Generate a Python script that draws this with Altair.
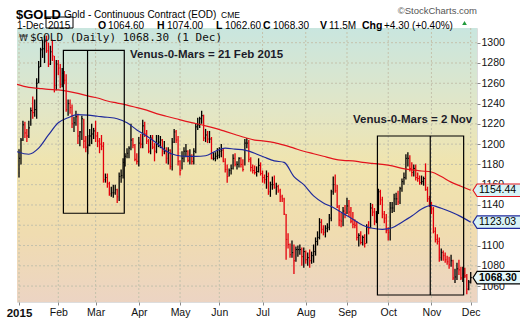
import altair as alt
import pandas as pd

# ---------------- data ----------------
month_idx = [0, 20, 39, 61, 82, 102, 124, 146, 167, 188, 210, 230]
month_lbl = ["2015", "Feb", "Mar", "Apr", "May", "Jun", "Jul", "Aug", "Sep", "Oct", "Nov", "Dec"]
y_ticks = [1060, 1080, 1100, 1120, 1140, 1160, 1180, 1200, 1220, 1240, 1260, 1280, 1300]

close = [
    1186, 1204, 1219, 1211, 1208, 1216, 1233, 1231, 1234, 1260, 1276, 1293, 1294, 1301, 1292, 1279, 1291, 1287, 1258, 1279,
    1275, 1259, 1270, 1263, 1234, 1240, 1236, 1220, 1221, 1227, 1208, 1212, 1225, 1203, 1197, 1199, 1208, 1210, 1213,
    1208, 1203, 1200, 1198, 1165, 1167, 1161, 1151, 1152, 1152, 1155, 1148, 1168, 1169, 1182, 1188, 1191, 1196, 1204, 1199, 1185, 1183,
    1201, 1200, 1218, 1210, 1203, 1193, 1206, 1197, 1193, 1200, 1202, 1204, 1193, 1193, 1186, 1194, 1178, 1202, 1212, 1204, 1183,
    1174, 1186, 1193, 1193, 1184, 1188, 1183, 1193, 1217, 1219, 1225, 1228, 1206, 1209, 1205, 1205, 1186, 1186, 1188, 1189,
    1193, 1194, 1183, 1175, 1168, 1174, 1176, 1186, 1180, 1180, 1186, 1180, 1175, 1201, 1201, 1185, 1177, 1174, 1172, 1173, 1179, 1171,
    1167, 1165, 1168, 1153, 1160, 1160, 1157, 1158, 1154, 1148, 1146, 1131, 1106, 1101, 1091, 1093, 1085, 1096, 1096, 1096, 1089, 1094,
    1086, 1088, 1085, 1090, 1094, 1104, 1108, 1123, 1116, 1113, 1117, 1118, 1127, 1153, 1160, 1154, 1138, 1125, 1124, 1134, 1132,
    1139, 1133, 1124, 1121, 1120, 1108, 1110, 1103, 1108, 1102, 1118, 1117, 1137, 1133, 1124, 1131, 1153, 1145, 1131, 1127, 1115,
    1113, 1137, 1137, 1146, 1146, 1143, 1156, 1163, 1167, 1186, 1186, 1176, 1172, 1176, 1167, 1166, 1162, 1163, 1166, 1155, 1146, 1142,
    1136, 1114, 1106, 1104, 1088, 1093, 1090, 1086, 1084, 1081, 1085, 1068, 1069, 1077, 1076, 1068, 1072, 1070, 1057, 1064,
    1068.3,
]
high = [
    1195, 1206, 1223, 1222, 1215, 1223, 1236, 1247, 1244, 1265, 1282, 1295, 1303, 1307, 1307, 1300, 1297, 1303, 1287, 1283,
    1283, 1279, 1275, 1272, 1269, 1244, 1244, 1239, 1227, 1233, 1230, 1213, 1228, 1225, 1208, 1209, 1215, 1220, 1216,
    1223, 1212, 1206, 1209, 1202, 1171, 1171, 1163, 1158, 1160, 1160, 1156, 1172, 1175, 1186, 1191, 1196, 1198, 1220, 1206, 1200, 1191,
    1207, 1210, 1224, 1222, 1214, 1205, 1209, 1209, 1201, 1209, 1209, 1208, 1205, 1203, 1197, 1197, 1195, 1206, 1215, 1214, 1208,
    1184, 1193, 1197, 1200, 1194, 1195, 1190, 1196, 1220, 1226, 1227, 1233, 1229, 1215, 1213, 1213, 1207, 1192, 1192, 1196,
    1197, 1200, 1196, 1186, 1180, 1176, 1180, 1190, 1191, 1183, 1187, 1187, 1185, 1205, 1206, 1204, 1187, 1180, 1179, 1178, 1186, 1182,
    1174, 1170, 1174, 1172, 1163, 1168, 1169, 1162, 1160, 1156, 1150, 1147, 1131, 1112, 1102, 1105, 1101, 1099, 1100, 1101, 1098, 1098,
    1095, 1093, 1096, 1094, 1101, 1108, 1114, 1127, 1126, 1120, 1120, 1122, 1131, 1155, 1168, 1170, 1160, 1140, 1132, 1138, 1140,
    1147, 1145, 1138, 1133, 1126, 1124, 1112, 1114, 1110, 1111, 1121, 1124, 1142, 1141, 1137, 1134, 1156, 1155, 1148, 1134, 1131,
    1118, 1143, 1143, 1151, 1152, 1154, 1158, 1166, 1172, 1190, 1192, 1189, 1182, 1180, 1180, 1172, 1169, 1169, 1168, 1181, 1158, 1149,
    1143, 1138, 1118, 1111, 1108, 1097, 1095, 1093, 1090, 1089, 1091, 1086, 1077, 1083, 1086, 1079, 1079, 1078, 1072, 1066,
    1074,
]
low = [
    1167, 1180, 1203, 1206, 1202, 1206, 1218, 1225, 1227, 1225, 1260, 1276, 1285, 1280, 1290, 1276, 1278, 1282, 1251, 1253,
    1268, 1255, 1256, 1259, 1232, 1228, 1230, 1216, 1212, 1218, 1200, 1198, 1204, 1196, 1192, 1190, 1198, 1200, 1205,
    1202, 1197, 1191, 1194, 1162, 1162, 1157, 1149, 1148, 1147, 1150, 1142, 1144, 1162, 1166, 1178, 1186, 1186, 1194, 1196, 1183, 1180,
    1178, 1196, 1196, 1207, 1200, 1191, 1190, 1195, 1183, 1191, 1197, 1196, 1188, 1190, 1181, 1180, 1175, 1174, 1201, 1201, 1179,
    1169, 1175, 1182, 1187, 1182, 1180, 1180, 1180, 1191, 1214, 1216, 1220, 1203, 1202, 1201, 1201, 1185, 1184, 1183, 1185,
    1186, 1187, 1182, 1172, 1162, 1168, 1170, 1175, 1178, 1175, 1177, 1177, 1173, 1179, 1196, 1182, 1173, 1171, 1170, 1168, 1172, 1169,
    1162, 1161, 1156, 1150, 1148, 1155, 1156, 1150, 1152, 1143, 1143, 1130, 1086, 1097, 1088, 1088, 1072, 1084, 1089, 1091, 1080, 1078,
    1082, 1080, 1078, 1082, 1083, 1090, 1100, 1106, 1112, 1110, 1108, 1113, 1115, 1124, 1150, 1152, 1137, 1119, 1118, 1119, 1127,
    1131, 1128, 1122, 1117, 1117, 1105, 1099, 1101, 1100, 1098, 1102, 1111, 1117, 1129, 1120, 1122, 1131, 1140, 1127, 1122, 1112,
    1105, 1105, 1132, 1133, 1140, 1140, 1141, 1153, 1160, 1165, 1178, 1173, 1168, 1168, 1164, 1163, 1160, 1160, 1159, 1154, 1143, 1138,
    1131, 1112, 1103, 1101, 1084, 1085, 1085, 1083, 1081, 1077, 1079, 1066, 1063, 1066, 1071, 1066, 1064, 1068, 1052, 1056,
    1062.6,
]

ma_idx = [-1, 5, 10, 15, 20, 25, 30, 35, 40, 45, 50, 55, 60, 65, 70, 75, 80, 85, 90, 95, 100, 105, 110, 115,
          120, 125, 130, 135, 140, 145, 150, 155, 160, 165, 170, 175, 180, 185, 190, 195, 200, 205, 210, 215,
          220, 225, 230]
ma200 = [1259, 1256, 1255, 1254, 1253.5, 1252, 1250, 1247.5, 1245.5, 1242.5, 1240.5, 1238.5, 1236, 1233.5,
         1230, 1227.5, 1225, 1222.5, 1220.3, 1218, 1215.5, 1212.5, 1209.5, 1206.5, 1204, 1203, 1201.5, 1199,
         1196, 1193, 1190.5, 1188, 1185.5, 1184, 1183.5, 1182, 1181, 1180, 1178.5, 1176, 1174.5, 1173.5,
         1172.5, 1168, 1162.5, 1158.5, 1154.44]
ma50 = [1192.5, 1190, 1196, 1209, 1221, 1226, 1229, 1228.5, 1227.5, 1226.5, 1225, 1221, 1214, 1208, 1201,
        1193, 1189, 1188, 1188, 1188.5, 1193, 1196, 1195, 1194, 1191, 1187, 1183.5, 1182, 1168, 1160, 1149,
        1142, 1137.5, 1131.7, 1126, 1120, 1117, 1116, 1117.5, 1123, 1129, 1136, 1139.5, 1136.7, 1133, 1128.5,
        1123.03]

box_left = [22.6, 182.5]
box_mid = [34.9, 209.4]
box_right = [53.6, 226.4]
box_top = [1292.5, 1208]
box_bottom = [1131.8, 1051.2]
notes = ["Venus-0-Mars = 21 Feb 2015", "Venus-0-Mars = 2 Nov"]

tag_values = [1154.44, 1123.03, 1068.30]
tag_labels = ["1154.44", "1123.03", "1068.30"]

# ---------------- layout ----------------
W, H = 460, 274
FONT = "Liberation Sans"

n = len(close)
prev = [close[0] - 1] + close[:-1]
df = pd.DataFrame({"i": list(range(n)), "high": high, "low": low, "close": close})
df["dir"] = ["down" if c < p else "up" for c, p in zip(close, prev)]

xs = alt.Scale(domain=[-1.02, 233.2], nice=False, zero=False)
ys = alt.Scale(domain=[1044.3, 1314.5], nice=False, zero=False)
dcol = alt.Color("dir:N", scale=alt.Scale(domain=["up", "down"], range=["#000000", "#e4000c"]), legend=None)

label_expr = "[" + ",".join("'%s'" % s for s in month_lbl) + "][indexof([" + \
    ",".join(str(v) for v in month_idx) + "], datum.value)]"

XAX = alt.Axis(
    values=month_idx, labelExpr=label_expr, title=None, grid=False, domain=False,
    tickSize=3, tickColor="#8a8a8a", labelFont=FONT, labelColor="#111", labelPadding=2,
    labelFontSize={"condition": {"test": "datum.value == 0", "value": 11.5}, "value": 10.5},
    labelFontWeight={"condition": {"test": "datum.value == 0", "value": "bold"}, "value": "normal"},
    labelFlush=False)
YAX = alt.Axis(
    orient="right", values=y_ticks, format="d", title=None, grid=False, domain=False, tickSize=3,
    tickColor="#8a8a8a", labelFont=FONT, labelFontSize=10.5, labelColor="#111", labelPadding=1)


def X(f):
    return alt.X(f, scale=xs, axis=XAX)


def Y(f):
    return alt.Y(f, scale=ys, axis=YAX)


dummy = pd.DataFrame({"k": [0]})


def txt(s, x, y, **kw):
    return alt.Chart(dummy).mark_text(text=s, **kw).encode(x=alt.value(x), y=alt.value(y))


bg = alt.Chart(dummy).mark_rect(
    fill=alt.Gradient(
        gradient="linear",
        stops=[alt.GradientStop(color="#c9e6df", offset=0),
               alt.GradientStop(color="#e2e6c6", offset=0.3),
               alt.GradientStop(color="#f0e4ae", offset=0.5),
               alt.GradientStop(color="#f0dcb0", offset=0.75),
               alt.GradientStop(color="#ecd4c3", offset=1)],
        x1=0, x2=0, y1=0, y2=1),
).encode(x=alt.value(0), x2=alt.value(W), y=alt.value(0), y2=alt.value(H))

gcol = "#c4c2ac"
hgrid = alt.Chart(pd.DataFrame({"v": y_ticks})).mark_rule(
    color=gcol, strokeDash=[2, 2], strokeWidth=1).encode(y=Y("v:Q"))
vgrid = alt.Chart(pd.DataFrame({"m": month_idx})).mark_rule(
    color=gcol, strokeDash=[2, 2], strokeWidth=1).encode(x=X("m:Q"))

bars = alt.Chart(df).mark_rule(strokeWidth=1.3).encode(
    x=X("i:Q"), y=Y("low:Q"), y2="high:Q", color=dcol)
cticks = alt.Chart(df).transform_calculate(xr="datum.i + 0.6").mark_rule(strokeWidth=1).encode(
    x=X("i:Q"), x2="xr:Q", y=Y("close:Q"), color=dcol)

madf = pd.DataFrame({"i": ma_idx, "ma200": ma200, "ma50": ma50})
red = alt.Chart(madf).mark_line(color="#e3141d", strokeWidth=1.2, interpolate="monotone", clip=True).encode(
    x=X("i:Q"), y=Y("ma200:Q"))
blue = alt.Chart(madf).mark_line(color="#1f2a9c", strokeWidth=1.2, interpolate="monotone", clip=True).encode(
    x=X("i:Q"), y=Y("ma50:Q"))

boxdf = pd.DataFrame({"l": box_left, "m": box_mid, "r": box_right, "t": box_top, "b": box_bottom})
boxes = alt.Chart(boxdf).mark_rect(fillOpacity=0, stroke="#000", strokeWidth=1.2).encode(
    x=X("l:Q"), x2="r:Q", y=Y("t:Q"), y2="b:Q")
divs = alt.Chart(boxdf).mark_rule(color="#000", strokeWidth=1.2).encode(
    x=X("m:Q"), y=Y("t:Q"), y2="b:Q")

note_style = dict(align="left", baseline="middle", font=FONT, fontWeight="bold", fontSize=11.5, color="#1c1c2a")
ann1 = txt(notes[0], 113, 27, **note_style)
ann2 = txt(notes[1], 336, 92, **note_style)

TAG = "M -1 0 L -0.83 -0.26 L 1 -0.26 L 1 0.26 L -0.83 0.26 Z"
tag_styles = [("#e3141d", "#d8f3f7", "normal"), ("#1f2a9c", "#d8f3f7", "normal"), ("#000000", "#e4f8fb", "bold")]
tags = []
for v, lab, (sc, fc, fw) in zip(tag_values, tag_labels, tag_styles):
    d = pd.DataFrame({"v": [v]})
    tags.append(alt.Chart(d).mark_point(shape=TAG, size=2304, fill=fc, stroke=sc, strokeWidth=1.1,
                                        fillOpacity=1, strokeOpacity=1, opacity=1).encode(
        x=alt.value(480), y=Y("v:Q")))
    tags.append(alt.Chart(d).mark_text(text=lab, align="left", baseline="middle", font=FONT,
                                       fontSize=10.5, fontWeight=fw, color="#000").encode(
        x=alt.value(462), y=Y("v:Q")))

B = dict(align="left", font=FONT, fontWeight="bold", fontSize=10.5, color="#000")
N = dict(align="left", font=FONT, fontSize=10, color="#000")
hdr = [
    txt("$GOLD", -1, -13, align="left", font=FONT, fontWeight="bold", fontSize=13, color="#000"),
    txt("Gold - Continuous Contract (EOD)", 47, -13, align="left", font=FONT, fontSize=10, color="#000"),
    txt("CME", 204, -13, align="left", font=FONT, fontSize=8.5, color="#000"),
    txt("\u00a9StockCharts.com", 460, -17, align="right", font=FONT, fontSize=9.5, color="#555"),
    txt("1-Dec", 0, -2, **N),
    txt("2015", 31, -2, **N),
    txt("O", 81, -2, **B), txt("1064.60", 91, -2, **N),
    txt("H", 140, -2, **B), txt("1074.00", 150, -2, **N),
    txt("L", 199, -2, **B), txt("1062.60", 208, -2, **N),
    txt("C", 246, -2, **B), txt("1068.30", 256, -2, **N),
    txt("V", 303, -2, **B), txt("11.5M", 312, -2, **N),
    txt("Chg", 345, -2, **B), txt("+4.30 (+0.40%)", 367, -2, **N),
    txt("\u20a9", 2, 9.5, align="left", font="DejaVu Sans", fontSize=9, color="#333"),
    txt("$GOLD (Daily) 1068.30 (1 Dec)", 13, 9.5, align="left", font="DejaVu Sans Mono", fontSize=11, color="#111"),
]
box2015 = alt.Chart(dummy).mark_rect(fillOpacity=0, stroke="#000", strokeWidth=1).encode(
    x=alt.value(29), x2=alt.value(56), y=alt.value(-11), y2=alt.value(0))
tri = alt.Chart(dummy).mark_point(shape="triangle-up", size=22, filled=True, color="#1f9a3a", opacity=1).encode(
    x=alt.value(447.5), y=alt.value(-5))

chart = alt.layer(
    bg, hgrid, vgrid, bars, cticks, red, blue, boxes, divs, ann1, ann2, *tags, *hdr, box2015, tri
).properties(
    width=W, height=H,
    padding={"left": 17, "top": 28, "right": 43, "bottom": 16},
    autosize=alt.AutoSizeParams(type="none"),
).configure_view(stroke="#9ec4c6", strokeWidth=1).configure(background="white")

chart.save("out.html", embed_options={"renderer": "svg", "actions": False})
